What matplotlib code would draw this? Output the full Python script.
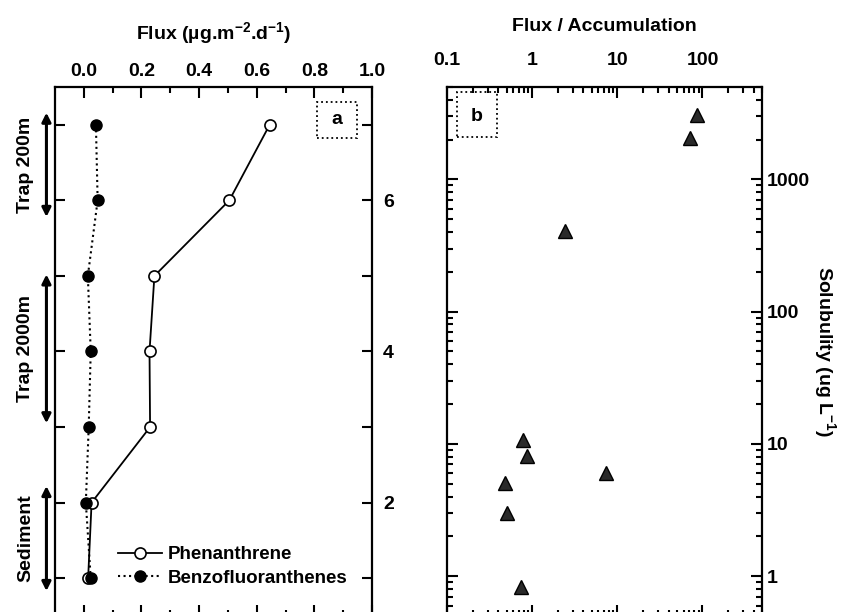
import matplotlib
matplotlib.use('Agg')
import matplotlib.pyplot as plt
from matplotlib.patches import Rectangle
from matplotlib.ticker import FixedLocator, NullFormatter, LogLocator

plt.rcParams['font.family'] = ['Liberation Sans', 'DejaVu Sans']
plt.rcParams['font.weight'] = 'bold'
plt.rcParams['axes.labelweight'] = 'bold'
plt.rcParams['font.size'] = 14
plt.rcParams['mathtext.fontset'] = 'custom'
plt.rcParams['mathtext.rm'] = 'Liberation Sans:bold'
plt.rcParams['mathtext.it'] = 'Liberation Sans:bold'
plt.rcParams['mathtext.bf'] = 'Liberation Sans:bold'

# panel a: flux by sample level
level = [7, 6, 5, 4, 3, 2, 1]
phen = [0.645, 0.505, 0.245, 0.228, 0.23, 0.027, 0.015]
bbf = [0.042, 0.048, 0.014, 0.024, 0.017, 0.007, 0.024]
ylab_a = ['', '2', '', '4', '', '6', '']

# panel b: flux/accumulation vs solubility
ratio = [87, 72, 2.43, 0.785, 0.87, 7.3, 0.48, 0.50, 0.74]
solub = [3050, 2050, 404, 10.7, 8.1, 6.0, 5.07, 3.0, 0.83]

fig = plt.figure(figsize=(8.46, 6.12), dpi=100)
ax1 = fig.add_axes([0.065, -0.0065, 0.3747, 0.8644])
ax2 = fig.add_axes([0.5284, -0.0065, 0.3723, 0.8644])

for ax in (ax1, ax2):
    for s in ax.spines.values():
        s.set_linewidth(1.6)
    ax.tick_params(which='both', direction='in', top=True, bottom=True,
                   left=True, right=True, labeltop=True, labelbottom=False,
                   width=1.5)
    ax.tick_params(which='major', length=8)
    ax.tick_params(which='minor', length=4.5)

# ---- panel a
ax1.plot(phen, level, '-', color='black', lw=1.3, marker='o', ms=8,
         mfc='white', mec='black', mew=1.2, label='Phenanthrene', zorder=3)
ax1.plot(bbf, level, ':', color='black', lw=1.5, marker='o', ms=8,
         mfc='black', mec='black', label='Benzofluoranthenes', zorder=4)
ax1.set_xlim(-0.1, 1.0)
ax1.set_ylim(0.5, 7.5)
ax1.set_xticks([0.0, 0.2, 0.4, 0.6, 0.8, 1.0])
ax1.set_xticklabels(['0.0', '0.2', '0.4', '0.6', '0.8', '1.0'])
ax1.xaxis.set_minor_locator(FixedLocator([0.1, 0.3, 0.5, 0.7, 0.9]))
ax1.set_yticks(level[::-1])
ax1.set_yticklabels(ylab_a)
ax1.tick_params(axis='y', labelleft=False, labelright=True, length=7, pad=8)
ax1.tick_params(axis='x', pad=5)
ax1.xaxis.set_label_position('top')
ax1.set_xlabel('Flux (µg.m$^{-2}$.d$^{-1}$)', labelpad=17)

leg = ax1.legend(loc='lower left', bbox_to_anchor=(0.2, 0.055), frameon=False,
                 borderpad=0, borderaxespad=0, handlelength=2.3,
                 handletextpad=0.35, labelspacing=0.35, fontsize=13.5)

ax1.add_patch(Rectangle((0.826, 0.904), 0.127, 0.068, transform=ax1.transAxes,
                        fill=False, ls=':', lw=1.3, ec='black'))
ax1.text(0.8895, 0.938, 'a', transform=ax1.transAxes, ha='center', va='center')

# depth-range arrows on the left
ranges = [(7.16, 5.78, 'Trap 200m'), (5.02, 3.05, 'Trap 2000m'), (2.22, 0.83, 'Sediment')]
for top, bot, name in ranges:
    ax1.annotate('', xy=(-0.027, top), xytext=(-0.027, bot),
                 xycoords=('axes fraction', 'data'), textcoords=('axes fraction', 'data'),
                 arrowprops=dict(arrowstyle='<|-|>', color='black', lw=2.2,
                                 mutation_scale=13, shrinkA=0, shrinkB=0),
                 annotation_clip=False)
    ax1.text(-0.092, (top + bot) / 2, name, transform=ax1.get_yaxis_transform(),
             rotation=90, ha='center', va='center', clip_on=False)

# ---- panel b
ax2.plot(ratio, solub, ls='none', marker='^', ms=10.5, mfc='#2a2a2a', mec='black', mew=1)
ax2.set_xscale('log')
ax2.set_yscale('log')
ax2.set_xlim(0.1, 500)
ax2.set_ylim(0.5, 5000)
ax2.xaxis.set_major_locator(FixedLocator([0.1, 1, 10, 100]))
ax2.set_xticklabels(['0.1', '1', '10', '100'])
ax2.xaxis.set_minor_locator(LogLocator(base=10, subs=range(2, 10)))
ax2.xaxis.set_minor_formatter(NullFormatter())
ax2.yaxis.set_major_locator(FixedLocator([1, 10, 100, 1000]))
ax2.set_yticklabels(['1', '10', '100', '1000'])
ax2.yaxis.set_minor_locator(LogLocator(base=10, subs=range(2, 10)))
ax2.yaxis.set_minor_formatter(NullFormatter())
ax2.tick_params(axis='y', labelleft=False, labelright=True)
ax2.tick_params(axis='x', pad=13)
ax2.xaxis.set_label_position('top')
ax2.set_xlabel('Flux / Accumulation', labelpad=15)
ax2.yaxis.set_label_position('right')
ax2.set_ylabel('Solubulity (ug L$^{-1}$)', rotation=270, labelpad=20)

ax2.add_patch(Rectangle((0.032, 0.905), 0.127, 0.085, transform=ax2.transAxes,
                        fill=False, ls=':', lw=1.3, ec='black'))
ax2.text(0.0955, 0.944, 'b', transform=ax2.transAxes, ha='center', va='center')

fig.savefig('out.png', dpi=100)
